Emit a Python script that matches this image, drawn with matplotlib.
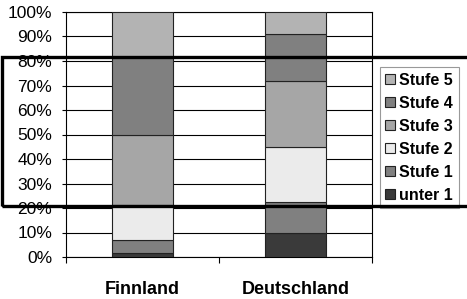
import matplotlib
matplotlib.use("Agg")
import matplotlib.pyplot as plt
from matplotlib.patches import Rectangle, Patch

plt.rcParams['font.family'] = ['Liberation Sans', 'DejaVu Sans']

countries = ["Finnland", "Deutschland"]
levels = ["unter 1", "Stufe 1", "Stufe 2", "Stufe 3", "Stufe 4", "Stufe 5"]
values = {
    "unter 1": [1.7, 9.9],
    "Stufe 1": [5.2, 12.7],
    "Stufe 2": [14.3, 22.3],
    "Stufe 3": [28.7, 26.8],
    "Stufe 4": [31.6, 19.4],
    "Stufe 5": [18.5, 8.9],
}
colors = {
    "unter 1": "#3a3a3a",
    "Stufe 1": "#808080",
    "Stufe 2": "#ebebeb",
    "Stufe 3": "#a6a6a6",
    "Stufe 4": "#808080",
    "Stufe 5": "#b3b3b3",
}
yticks = [0, 10, 20, 30, 40, 50, 60, 70, 80, 90, 100]
ytick_labels = [f"{v}%" for v in yticks]

W, H = 467, 299
fig = plt.figure(figsize=(W / 100, H / 100), dpi=100)
ax = fig.add_axes([66 / W, (H - 257) / H, (372 - 66) / W, (257 - 12) / H])

x = list(range(len(countries)))
bottom = [0.0] * len(countries)
for lev in levels:
    ax.bar(x, values[lev], bottom=bottom, width=0.405, color=colors[lev],
           edgecolor="#222222", linewidth=0.8, zorder=3)
    bottom = [b + v for b, v in zip(bottom, values[lev])]

ax.set_xlim(-0.5, 1.5)
ax.set_ylim(0, 100)
ax.set_yticks(yticks)
ax.set_yticklabels(ytick_labels, fontsize=12.5)
ax.yaxis.grid(True, color="black", linewidth=0.8, zorder=0)
ax.set_axisbelow(True)
ax.tick_params(axis="y", direction="out", length=3, width=0.8, pad=7)

ax.set_xticks(x)
ax.set_xticklabels(countries, fontsize=13, fontweight="bold")
ax.tick_params(axis="x", which="major", length=0, pad=17)
ax.set_xticks([-0.5, 0.5, 1.5], minor=True)
ax.tick_params(axis="x", which="minor", direction="out", length=4, width=0.8)

for s in ax.spines.values():
    s.set_color("black")
    s.set_linewidth(0.8)

handles = [Patch(facecolor=colors[l], edgecolor="#222222", linewidth=0.8, label=l)
           for l in reversed(levels)]
leg = fig.legend(handles=handles, loc="upper left",
                 bbox_to_anchor=(379.5 / W, (H - 67) / H),
                 prop={'weight': 'bold', 'size': 11.5},
                 frameon=True, fancybox=False, edgecolor="#808080",
                 handlelength=0.6, handleheight=0.6, handletextpad=0.3,
                 labelspacing=0.5, borderpad=0.35, borderaxespad=0)
leg.get_frame().set_linewidth(0.8)

fig.patches.append(Rectangle((2 / W, (H - 206) / H), 1.2, (206 - 57) / H,
                             transform=fig.transFigure, fill=False,
                             edgecolor="black", linewidth=2.4, zorder=10))

fig.savefig("out.png", dpi=100)
